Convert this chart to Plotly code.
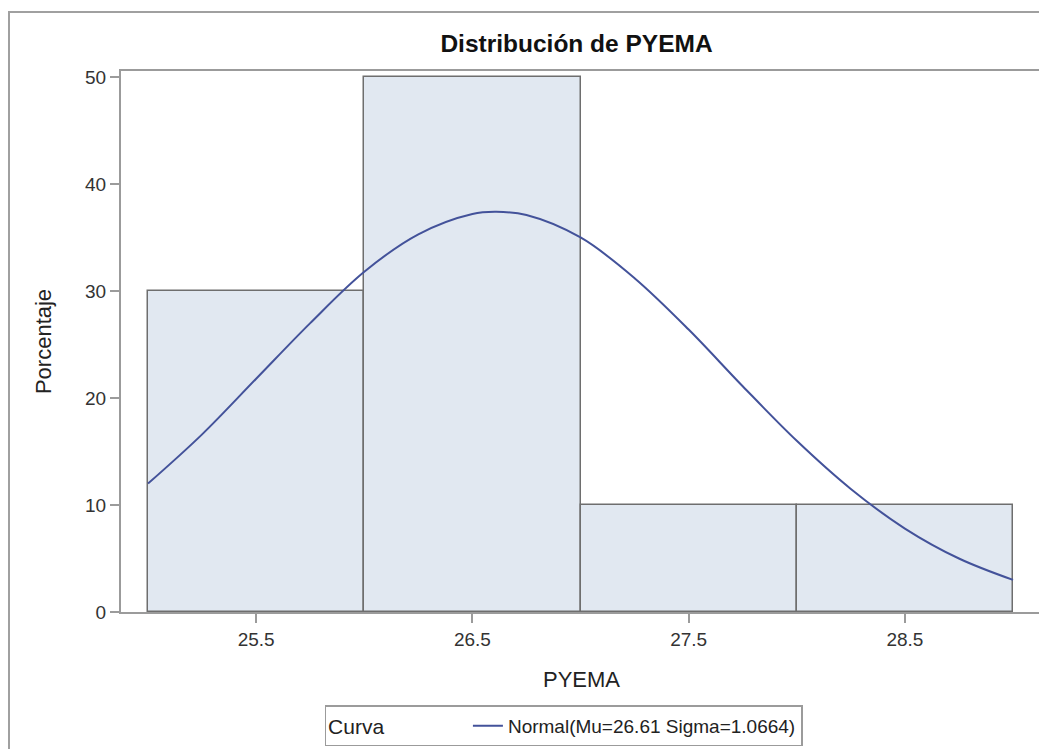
import plotly.graph_objects as go

# histogram bins (centres) and percentages
bin_centres = [25.5, 26.5, 27.5, 28.5]
porcentaje = [30, 50, 10, 10]

# normal curve
curve_x = [25.0, 25.25, 25.5, 25.75, 26.0, 26.25, 26.5, 26.61, 26.75, 27.0,
           27.25, 27.5, 27.75, 28.0, 28.25, 28.5, 28.75, 29.0]
curve_y = [12.0, 16.6, 21.8, 27.0, 31.8, 35.3, 37.2, 37.4, 37.1, 35.0,
           31.2, 26.4, 21.1, 16.0, 11.5, 7.8, 5.0, 3.0]

x_ticks = [25.5, 26.5, 27.5, 28.5]
y_ticks = [0, 10, 20, 30, 40, 50]

FONT = "Liberation Sans, Arial, sans-serif"
AXIS_GREY = "#9b9b9b"

fig = go.Figure()
fig.add_trace(go.Bar(
    x=bin_centres, y=porcentaje, width=1,
    marker=dict(color="#e1e8f1", line=dict(color="#6e6e6e", width=1.5)),
    showlegend=False, hoverinfo="x+y",
))
fig.add_trace(go.Scatter(
    x=curve_x, y=curve_y, mode="lines", line_shape="spline",
    line=dict(color="#43529a", width=2),
    name="Normal(Mu=26.61 Sigma=1.0664)",
))

# page body has an 8px margin, so the figure is a bit smaller than the window
fig.update_layout(
    width=1039, height=741,
    margin=dict(l=113, r=5, t=63, b=137),
    paper_bgcolor="white", plot_bgcolor="white",
    font=dict(family=FONT, size=19, color="#333333"),
    title=dict(text="<b>Distribución de PYEMA</b>", x=0.4946, xref="paper",
               y=0.9528, yref="container", xanchor="center", yanchor="middle",
               font=dict(size=24.5, color="#111111")),
    bargap=0,
    legend=dict(
        orientation="h", x=0.4805, xanchor="center",
        y=0.059, yref="container", yanchor="top",
        title=dict(text="Curva" + "\u00a0" * 13, font=dict(size=21, color="#222222")),
        bordercolor="#9b9b9b", borderwidth=1.5,
        font=dict(size=19, color="#222222"),
        valign="middle", tracegroupgap=0,
    ),
    shapes=[dict(type="rect", xref="paper", yref="paper",
                 x0=-0.1216, x1=1.05, y0=-0.3, y1=1.109,
                 line=dict(color="#a0a0a0", width=2), layer="below")],
)

fig.update_xaxes(
    range=[24.875, 29.134], tickvals=x_ticks, ticktext=[str(v) for v in x_ticks],
    showgrid=False, zeroline=False, showline=True, mirror=True, automargin=False,
    linecolor=AXIS_GREY, linewidth=2, ticks="outside", ticklen=9,
    tickcolor=AXIS_GREY, tickwidth=2,
    title=dict(text="PYEMA", font=dict(size=22, color="#222222"), standoff=23),
)
fig.update_yaxes(
    range=[0, 50.56], tickvals=y_ticks,
    showgrid=False, zeroline=False, showline=True, mirror=True, automargin=False,
    linecolor=AXIS_GREY, linewidth=2, ticks="outside", ticklen=9,
    tickcolor=AXIS_GREY, tickwidth=2,
    title=dict(text="Porcentaje", font=dict(size=22, color="#222222"), standoff=27),
)

fig.write_html("out.html")
